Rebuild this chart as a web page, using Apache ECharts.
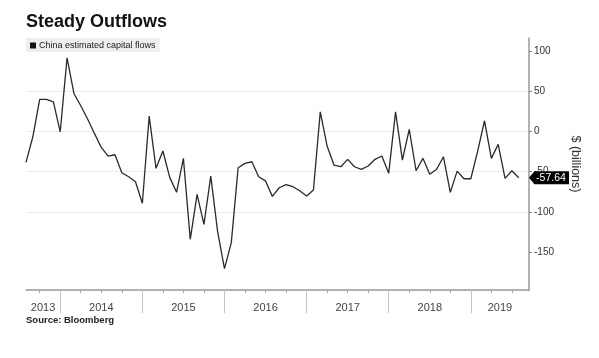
<!DOCTYPE html>
<html>
<head>
<meta charset="utf-8">
<script src="https://cdn.jsdelivr.net/npm/echarts@6/dist/echarts.min.js"></script>
<style>html,body{margin:0;padding:0;background:#fff;}#chart{width:599px;height:358px;}</style>
</head>
<body>
<div id="chart"></div>
<script>
// Monthly estimated capital flows, $ billions, Jul 2013 .. Jul 2019 (month-end)
const firstYear = 2013;
const firstMonth = 7; // July
const flows = [
  -38.5, -6.7, 39.7, 39.7, 36.7, -0.5,
  91.3, 47.1, 31.8, 15.3, -2.5, -19.9, -30.6, -29.0, -51.3, -56.3, -62.5, -89.3,
  19.0, -45.9, -24.4, -57.1, -75.7, -33.5, -134.0, -78.2, -115.4, -55.5, -124.5, -170.5,
  -138.2, -45.1, -39.7, -37.7, -56.3, -61.5, -80.7, -70.0, -66.2, -68.7, -73.7, -80.3,
  -72.8, 24.3, -18.2, -41.8, -43.9, -34.7, -43.9, -47.1, -43.0, -34.7, -30.6, -52.1,
  24.3, -35.6, 2.5, -48.9, -33.5, -53.3, -47.1, -31.5, -75.7, -49.3, -58.8, -58.8,
  -24.4, 13.2, -33.5, -16.1, -58.3, -48.9, -57.64
];
const yearLabels = ['2013', '2014', '2015', '2016', '2017', '2018', '2019'];
const yTickValues = [-150, -100, -50, 0, 50, 100];
const seriesName = 'China estimated capital flows';

// x = months since end of Dec 2012
const xStart = firstMonth;
const xMin = xStart;
const xMax = xStart + flows.length - 1 + 1.5;
const points = flows.map((v, i) => [xStart + i, v]);
const lastPoint = points[points.length - 1];

const yearBounds = [];
const yearMids = [];
yearLabels.forEach((y, k) => {
  const s = Math.max(xMin, k * 12);
  const e = Math.min(xMax, (k + 1) * 12);
  if (k > 0) yearBounds.push(k * 12);
  yearMids.push((s + e) / 2);
});
const quarterTicks = [];
for (let q = 3; q < xMax; q += 3) { if (q > xMin) quarterTicks.push(q); }

const chart = echarts.init(document.getElementById('chart'), null, {renderer: 'canvas'});
const FONT = 'Liberation Sans';
chart.setOption({
  animation: false,
  backgroundColor: '#ffffff',
  textStyle: {fontFamily: FONT},
  title: [
    {text: 'Steady Outflows', left: 26, top: 13, padding: 0,
     textStyle: {fontSize: 18, fontWeight: 'bold', color: '#111', fontFamily: FONT}},
    {text: 'Source: Bloomberg', left: 26, top: 315, padding: 0,
     textStyle: {fontSize: 9.5, fontWeight: 'bold', color: '#222', fontFamily: FONT}}
  ],
  legend: {
    left: 26, top: 38, padding: [3, 4, 2, 4],
    backgroundColor: '#eeeeee',
    icon: 'rect', itemWidth: 6, itemHeight: 6,
    textStyle: {fontSize: 9, color: '#222', padding: [0, 0, 0, -2]},
    data: [seriesName]
  },
  grid: {left: 26, right: 70, top: 38, bottom: 68, containLabel: false},
  xAxis: [
    {
      type: 'value', min: xMin, max: xMax, position: 'bottom',
      axisLine: {show: true, onZero: false, lineStyle: {color: '#999', width: 1.5}},
      axisTick: {show: true, customValues: quarterTicks, length: 3, lineStyle: {color: '#aaa'}},
      axisLabel: {show: false},
      splitLine: {show: false}
    },
    {
      type: 'value', min: xMin, max: xMax, position: 'bottom',
      axisLine: {show: false, onZero: false},
      axisTick: {show: true, customValues: yearBounds, length: 23, lineStyle: {color: '#c4c4c4'}},
      axisLabel: {show: true, customValues: yearMids, margin: 12, fontSize: 11, color: '#444',
        formatter: (v) => {
          const k = yearMids.findIndex(m => Math.abs(m - v) < 1e-6);
          return k >= 0 ? yearLabels[k] : '';
        }},
      splitLine: {show: false}
    }
  ],
  yAxis: {
    type: 'value', position: 'right', min: -197, max: 116, interval: 50,
    axisLine: {show: true, onZero: false, lineStyle: {color: '#999', width: 1.5}},
    axisTick: {show: true, customValues: yTickValues, length: 3, lineStyle: {color: '#888'}},
    axisLabel: {show: true, customValues: yTickValues, margin: 5, fontSize: 10, color: '#333'},
    splitLine: {show: true, showMinLine: false, showMaxLine: false, lineStyle: {color: '#ececec', width: 1}},
    name: '$ (billions)', nameLocation: 'middle', nameRotate: -90, nameGap: 40,
    nameTextStyle: {fontSize: 12.5, color: '#333'}
  },
  series: [{
    name: seriesName, type: 'line', xAxisIndex: 0,
    data: points, showSymbol: false, symbol: 'none',
    itemStyle: {color: '#111'},
    lineStyle: {color: '#2a2a2a', width: 1.3},
    markPoint: {
      silent: true,
      symbol: 'path://M0,6 L6,0 L44,0 L44,12 L6,12 Z',
      symbolSize: [40, 13], symbolOffset: ['50%', 0],
      itemStyle: {color: '#000'},
      label: {show: true, position: 'inside', color: '#fff', fontSize: 10.5, offset: [2, 0],
        formatter: () => lastPoint[1].toFixed(2)},
      data: [{coord: [xMax, lastPoint[1]]}]
    }
  }]
});
</script>
</body>
</html>
